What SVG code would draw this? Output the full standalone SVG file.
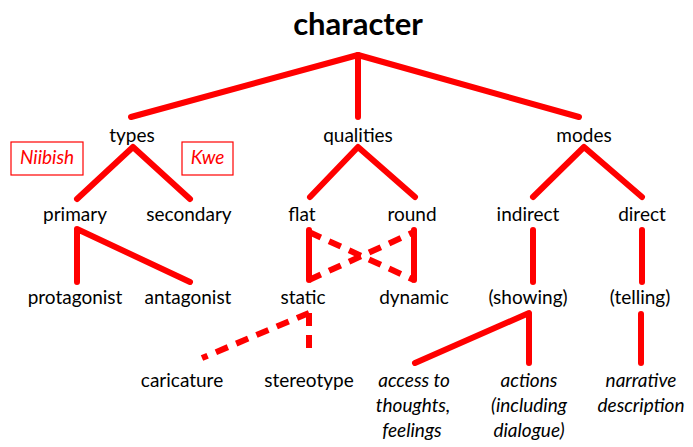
<svg xmlns="http://www.w3.org/2000/svg" width="693" height="447" viewBox="0 0 693 447">
<style>
text{font-family:Lato,"Open Sans","Liberation Sans",sans-serif;font-size:19px;fill:#000;text-anchor:middle}
.title{font-size:31px;font-weight:bold}
.it{font-style:italic}
.red{fill:#f00}
.box{fill:#fff;stroke:#f00;stroke-width:1.2}
.c{fill:none;stroke:#f00;stroke-width:6;stroke-linecap:round;stroke-linejoin:round}
.d{fill:none;stroke:#f00;stroke-width:6;stroke-dasharray:13 9}
</style>
<rect width="693" height="447" fill="#fff"/>
<g id="connectors">
<polyline class="c" points="131,117 358,55 579,117"/>
<line class="c" x1="358" y1="55" x2="358" y2="117"/>
<polyline class="c" points="77,199 133,147 190,199"/>
<polyline class="c" points="310,197 358,147 415,197"/>
<polyline class="c" points="533,197 584,147 642,197"/>
<polyline class="c" points="77,282 77,229 190,282"/>
<line class="c" x1="309" y1="230" x2="309" y2="280"/>
<line class="c" x1="414" y1="230" x2="414" y2="280"/>
<line class="d" x1="309" y1="232" x2="414" y2="280"/>
<line class="d" x1="309" y1="280" x2="414" y2="232"/>
<line class="d" x1="309" y1="313" x2="309" y2="354"/>
<line class="d" x1="309" y1="313" x2="202" y2="358"/>
<line class="c" x1="533" y1="230" x2="533" y2="282"/>
<line class="c" x1="642" y1="230" x2="642" y2="282"/>
<polyline class="c" points="415,363 529,313 529,363"/>
<line class="c" x1="641" y1="314" x2="641" y2="363"/>
</g>
<g id="character"><text class="title" x="358" y="35">character</text></g>
<g id="types"><text x="132" y="142">types</text></g>
<g id="qualities"><text x="358" y="142">qualities</text></g>
<g id="modes"><text x="584" y="142">modes</text></g>
<g id="niibish"><rect class="box" x="11" y="142" width="72" height="33"/><text class="it red" x="47" y="164">Niibish</text></g>
<g id="kwe"><rect class="box" x="182" y="142" width="51" height="33"/><text class="it red" x="207.5" y="164">Kwe</text></g>
<g id="primary"><text x="75" y="221">primary</text></g>
<g id="secondary"><text x="189" y="221">secondary</text></g>
<g id="flat"><text x="302" y="221">flat</text></g>
<g id="round"><text x="412" y="221">round</text></g>
<g id="indirect"><text x="528" y="221">indirect</text></g>
<g id="direct"><text x="642" y="221">direct</text></g>
<g id="protagonist"><text x="75" y="304">protagonist</text></g>
<g id="antagonist"><text x="188" y="304">antagonist</text></g>
<g id="static"><text x="303" y="304">static</text></g>
<g id="dynamic"><text x="414" y="304">dynamic</text></g>
<g id="showing"><text x="528" y="304">(showing)</text></g>
<g id="telling"><text x="640" y="304">(telling)</text></g>
<g id="caricature"><text x="182" y="387">caricature</text></g>
<g id="stereotype"><text x="309" y="387">stereotype</text></g>
<g id="access"><text class="it" x="414" y="387">access to</text><text class="it" x="413" y="412">thoughts,</text><text class="it" x="412" y="437">feelings</text></g>
<g id="actions"><text class="it" x="529" y="387">actions</text><text class="it" x="529" y="412">(including</text><text class="it" x="529" y="437">dialogue)</text></g>
<g id="narrative"><text class="it" x="641" y="387">narrative</text><text class="it" x="641" y="412">description</text></g>
</svg>
